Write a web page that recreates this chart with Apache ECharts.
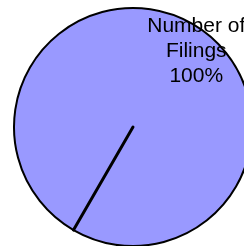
<!DOCTYPE html>
<html>
<head>
<meta charset="utf-8">
<script src="https://cdn.jsdelivr.net/npm/echarts@6/dist/echarts.min.js"></script>
<style>
  html, body { margin: 0; padding: 0; background: #fff; }
  #chart { width: 244px; height: 246px; }
</style>
</head>
<body>
<div id="chart"></div>
<script>
// Slice names and values (single series, one real slice)
var sliceNames = ['Number of Filings'];
var sliceValues = [100];

var chart = echarts.init(document.getElementById('chart'));

var pieData = sliceNames.map(function (name, i) {
	return { name: name, value: sliceValues[i] };
});
// zero-width slice so the start edge of the pie gets its border line
pieData.push({
	name: '',
	value: 0,
	label: { show: false },
	itemStyle: { borderWidth: 3 }
});

chart.setOption({
	animation: false,
	series: [{
		type: 'pie',
		center: [133, 127],
		radius: 119,
		startAngle: 240,
		clockwise: true,
		avoidLabelOverlap: false,
		itemStyle: {
			color: '#9999ff',
			borderColor: '#000',
			borderWidth: 2
		},
		label: {
			show: true,
			position: 'inside',
			formatter: function (p) {
				return p.name.replace(' Filings', '\nFilings') + '\n' + Math.round(p.percent) + '%';
			},
			fontFamily: 'Liberation Sans',
			fontSize: 21,
			lineHeight: 25,
			color: '#000',
			align: 'center'
		},
		labelLayout: { dx: 32, dy: -22 },
		labelLine: { show: false },
		emphasis: { disabled: true },
		data: pieData
	}]
});
</script>
</body>
</html>
